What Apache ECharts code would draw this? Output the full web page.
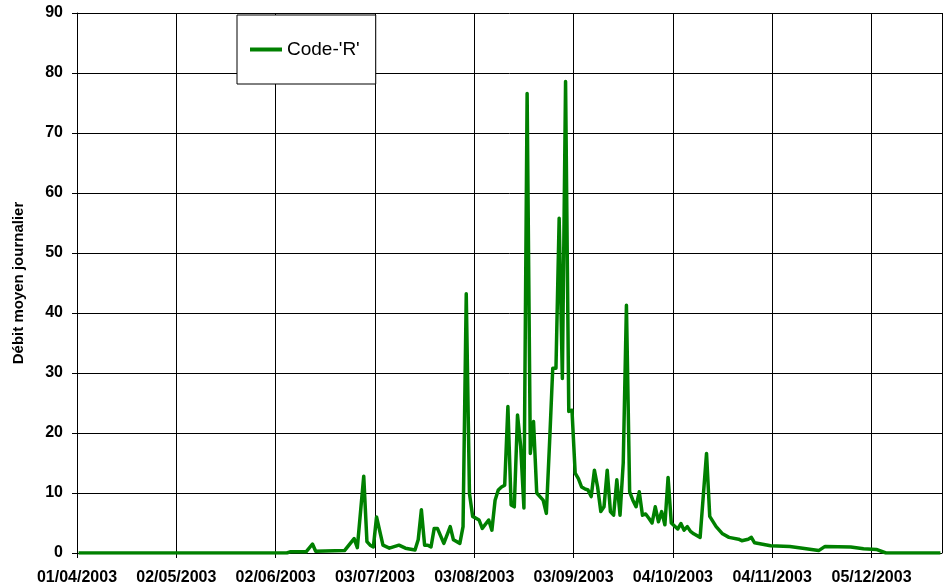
<!DOCTYPE html>
<html>
<head>
<meta charset="utf-8">
<script src="https://cdn.jsdelivr.net/npm/echarts@6/dist/echarts.min.js"></script>
<style>
  html, body { margin: 0; padding: 0; background: #fff; }
  #chart { width: 943px; height: 588px; }
</style>
</head>
<body>
<div id="chart"></div>
<script>
// ---- Data ----
const seriesName = "Code-'R'";
const startDate = '2003-04-01';
const endDay = 270;          // axis length in days
const tickStepDays = 31;     // one tick label every 31 days
const yTicks = [0, 10, 20, 30, 40, 50, 60, 70, 80, 90];

const dates = [
  '2003-04-01','2003-06-05','2003-06-06','2003-06-11','2003-06-13','2003-06-14','2003-06-23',
  '2003-06-26','2003-06-27','2003-06-29','2003-06-30','2003-07-01','2003-07-02','2003-07-03',
  '2003-07-05','2003-07-07','2003-07-10','2003-07-12','2003-07-15','2003-07-16','2003-07-17',
  '2003-07-18','2003-07-19','2003-07-20','2003-07-21','2003-07-22','2003-07-24','2003-07-26',
  '2003-07-27','2003-07-29','2003-07-30','2003-07-31','2003-08-01','2003-08-02','2003-08-04',
  '2003-08-05','2003-08-07','2003-08-08','2003-08-09','2003-08-10','2003-08-11','2003-08-12',
  '2003-08-13','2003-08-14','2003-08-15','2003-08-16','2003-08-17','2003-08-18','2003-08-19',
  '2003-08-20','2003-08-21','2003-08-22','2003-08-23','2003-08-24','2003-08-25','2003-08-26',
  '2003-08-27','2003-08-28','2003-08-29','2003-08-30','2003-08-31','2003-09-01','2003-09-02',
  '2003-09-03','2003-09-04','2003-09-05','2003-09-06','2003-09-07','2003-09-08','2003-09-09',
  '2003-09-10','2003-09-11','2003-09-12','2003-09-13','2003-09-14','2003-09-15','2003-09-16',
  '2003-09-17','2003-09-18','2003-09-19','2003-09-20','2003-09-21','2003-09-22','2003-09-23',
  '2003-09-24','2003-09-25','2003-09-26','2003-09-27','2003-09-28','2003-09-29','2003-09-30',
  '2003-10-01','2003-10-02','2003-10-03','2003-10-05','2003-10-06','2003-10-07','2003-10-08',
  '2003-10-09','2003-10-10','2003-10-12','2003-10-14','2003-10-15','2003-10-17','2003-10-19',
  '2003-10-21','2003-10-24','2003-10-25','2003-10-27','2003-10-28','2003-10-29','2003-11-03',
  '2003-11-09','2003-11-13','2003-11-18','2003-11-20','2003-11-28','2003-12-02','2003-12-06',
  '2003-12-09','2003-12-26'
];
const values = [
  0, 0, 0.2, 0.2, 1.5, 0.3, 0.4,
  2.4, 0.9, 12.8, 1.9, 1.3, 1.0, 6.0,
  1.3, 0.8, 1.3, 0.8, 0.5, 2.2, 7.2,
  1.3, 1.3, 1.0, 4.1, 4.1, 1.6, 4.4,
  2.2, 1.6, 4.4, 43.2, 9.9, 6.1, 5.5,
  4.1, 5.5, 3.8, 8.8, 10.5, 11.0, 11.3,
  24.4, 8.0, 7.7, 23.0, 17.7, 7.5, 76.6,
  16.6, 21.9, 10.0, 9.4, 8.8, 6.6, 18.3,
  30.8, 30.8, 55.8, 29.1, 78.6, 23.6, 23.8,
  13.3, 12.4, 11.0, 10.7, 10.5, 9.4, 13.8,
  11.0, 6.9, 7.7, 13.8, 6.9, 6.3, 12.2,
  6.3, 15.0, 41.3, 10.2, 8.8, 7.7, 10.2,
  6.3, 6.5, 5.8, 5.0, 7.7, 5.2, 6.9,
  4.7, 12.6, 5.0, 4.0, 4.9, 3.8, 4.4,
  3.6, 3.2, 2.6, 16.6, 6.1, 4.4, 3.2,
  2.6, 2.3, 2.05, 2.3, 2.6, 1.7, 1.2,
  1.1, 0.8, 0.4, 1.1, 1.0, 0.7, 0.6,
  0, 0
];

// ---- Build ----
const DAY = 86400000;
function parseUTC(s) { const p = s.split('-').map(Number); return Date.UTC(p[0], p[1] - 1, p[2]); }
const t0 = parseUTC(startDate);
// daily means are plotted at the middle of their day
const points = dates.map((d, i) => [(parseUTC(d) - t0) / DAY + 0.5, values[i]]);

function fmtDay(v) {
  const d = new Date(t0 + v * DAY);
  const dd = String(d.getUTCDate()).padStart(2, '0');
  const mm = String(d.getUTCMonth() + 1).padStart(2, '0');
  return dd + '/' + mm + '/' + d.getUTCFullYear();
}

const FONT = 'Arial, "Liberation Sans", Helvetica, sans-serif';
const chart = echarts.init(document.getElementById('chart'), null, { renderer: 'canvas' });
chart.setOption({
  animation: false,
  backgroundColor: '#fff',
  textStyle: { fontFamily: FONT },
  grid: { left: 77, right: 1, top: 13, bottom: 35, containLabel: false },
  legend: {
    data: [seriesName],
    left: 237, top: 15,
    orient: 'horizontal',
    backgroundColor: '#fff',
    borderColor: '#000',
    borderWidth: 1,
    padding: [25, 16, 25, 13],
    icon: 'rect',
    itemWidth: 32, itemHeight: 4, itemGap: 0,
    textStyle: { fontFamily: FONT, fontSize: 19, color: '#000', padding: [0, 0, 0, 0] }
  },
  xAxis: {
    type: 'value',
    min: 0, max: endDay, interval: tickStepDays,
    axisLine: { show: true, onZero: false, lineStyle: { color: '#000', width: 1 } },
    axisTick: { show: true, inside: false, length: 5, lineStyle: { color: '#000' } },
    axisLabel: {
      show: true, margin: 17, color: '#000', fontFamily: FONT, fontWeight: 'bold', fontSize: 16,
      showMaxLabel: false,
      formatter: v => (v % tickStepDays === 0 ? fmtDay(v) : '')
    },
    splitLine: { show: true, lineStyle: { color: '#000', width: 1 } }
  },
  yAxis: {
    type: 'value',
    min: yTicks[0], max: yTicks[yTicks.length - 1], interval: yTicks[1] - yTicks[0],
    name: 'Débit moyen journalier',
    nameLocation: 'middle', nameRotate: 90, nameGap: 51,
    nameTextStyle: { fontFamily: FONT, fontWeight: 'bold', fontSize: 15, color: '#000' },
    axisLine: { show: true, lineStyle: { color: '#000', width: 1 } },
    axisTick: { show: true, inside: false, length: 5, lineStyle: { color: '#000' } },
    axisLabel: { margin: 14, color: '#000', fontFamily: FONT, fontWeight: 'bold', fontSize: 16 },
    splitLine: { show: true, lineStyle: { color: '#000', width: 1 } }
  },
  series: [{
    name: seriesName,
    type: 'line',
    data: points,
    showSymbol: false,
    symbol: 'none',
    smooth: false,
    color: '#008000',
    lineStyle: { color: '#008000', width: 3.5, join: 'round' },
    z: 3
  }]
});
</script>
</body>
</html>
